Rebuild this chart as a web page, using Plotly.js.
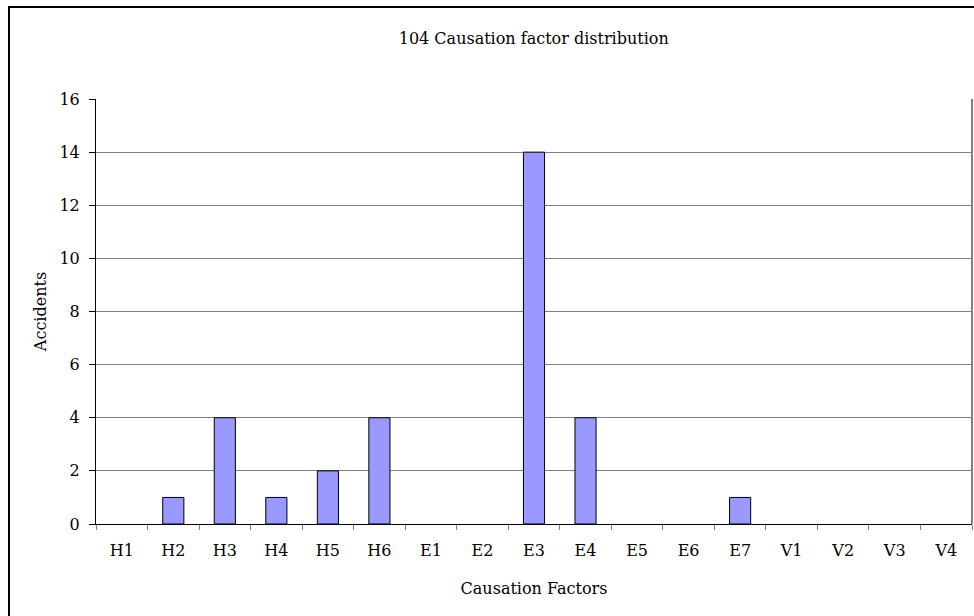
<!DOCTYPE html>
<html><head><meta charset="utf-8">
<script src="https://cdn.plot.ly/plotly-3.0.1.min.js"></script>
<style>html,body{margin:0;padding:0;background:#fff}</style>
</head><body><div id="chart" style="width:974px;height:616px"></div>
<script>
const categories = ["H1","H2","H3","H4","H5","H6","E1","E2","E3","E4","E5","E6","E7","V1","V2","V3","V4"];
const accidents = [0,1,4,1,2,4,0,0,14,4,0,0,1,0,0,0,0];
const yTicks = [0,2,4,6,8,10,12,14,16];
const titleText = "104 Causation factor distribution";
const xTitle = "Causation Factors";
const yTitle = "Accidents";

const font = "DejaVu Serif, serif";
const fs = 16;
Plotly.newPlot("chart", [{
  type: "bar", x: categories,
  y: accidents.map(v => v === 0 ? null : v),
  marker: {color: "#9999FF", line: {color: "#000", width: 1}},
  hoverinfo: "x+y"
}], {
  width: 974, height: 616,
  margin: {l: 96, r: 2, t: 99, b: 92},
  paper_bgcolor: "#fff", plot_bgcolor: "#fff",
  bargap: 0.59,
  showlegend: false,
  font: {family: font, size: fs, color: "#000"},
  title: {text: titleText, x: 0.548, xanchor: "center", y: 0.938, yanchor: "middle", font: {family: font, size: fs, color: "#000"}},
  xaxis: {
    type: "category", tickson: "boundaries", ticks: "outside", ticklen: 5, tickcolor: "#808080",
    showline: true, linecolor: "#000", linewidth: 1, showgrid: false,
    ticklabelstandoff: 12,
    title: {text: xTitle, standoff: 23, font: {family: font, size: fs}},
    tickfont: {family: font, size: fs}
  },
  yaxis: {
    range: [0, 16], tickvals: yTicks, ticks: "outside", ticklen: 6, tickcolor: "#000",
    showline: true, linecolor: "#000", linewidth: 1, zeroline: false,
    showgrid: true, gridcolor: "#808080", gridwidth: 1,
    ticklabelstandoff: 6,
    title: {text: yTitle, standoff: 8, font: {family: font, size: fs}},
    tickfont: {family: font, size: fs}
  },
  shapes: [
    {type: "line", xref: "paper", yref: "paper", x0: 1, x1: 1, y0: 0, y1: 1, line: {color: "#808080", width: 2}},
    {type: "rect", xref: "paper", yref: "paper", x0: -0.0993, x1: 1.2, y0: -0.3, y1: 1.2165, line: {color: "#000", width: 2}, fillcolor: "rgba(0,0,0,0)", layer: "below"}
  ]
}, {displayModeBar: false, staticPlot: true});
</script></body></html>
